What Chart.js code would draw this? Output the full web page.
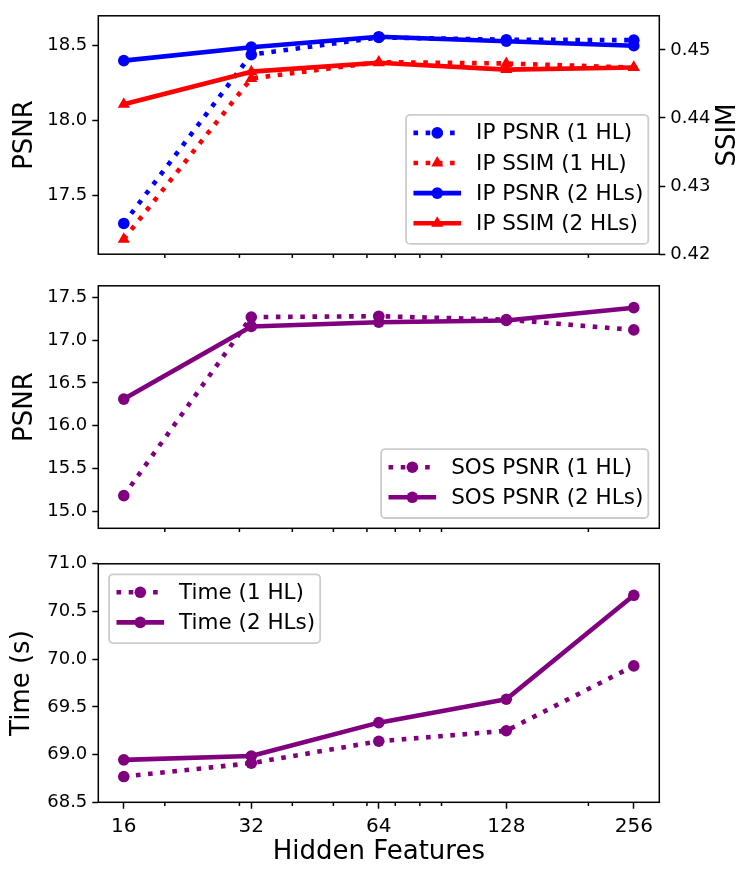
<!DOCTYPE html>
<html>
<head>
<meta charset="utf-8">
<script src="https://cdn.jsdelivr.net/npm/chart.js@4.4.1/dist/chart.umd.min.js"></script>
<style>
  html, body { margin: 0; padding: 0; background: #fff; }
  #wrap { position: relative; width: 756px; height: 880px; overflow: hidden; }
  canvas { position: absolute; left: 0; }
</style>
</head>
<body>
<div id="wrap">
  <canvas id="ip" width="756" height="270" style="top:0px"></canvas>
  <canvas id="sos" width="756" height="278" style="top:270px"></canvas>
  <canvas id="time" width="756" height="332" style="top:548px"></canvas>
</div>
<script>
const FONT = '"DejaVu Sans", sans-serif';
Chart.defaults.font.family = FONT;
Chart.defaults.color = '#000';

// x values (log2 axis) and minor log10 tick positions
const features = [16, 32, 64, 128, 256];
const minorFeatures = [20, 30, 40, 50, 60, 70, 80, 90, 200];

// top panel: image PSNR (left axis) and SSIM (right axis)
const ipPsnr1 = [17.31, 18.44, 18.555, 18.54, 18.537];
const ipSsim1 = [0.4222, 0.4458, 0.4482, 0.4480, 0.4474];
const ipPsnr2 = [18.40, 18.49, 18.56, 18.53, 18.50];
const ipSsim2 = [0.4420, 0.4468, 0.4481, 0.4471, 0.4474];

// middle panel: SOS PSNR
const sosPsnr1 = [15.18, 17.27, 17.28, 17.24, 17.12];
const sosPsnr2 = [16.31, 17.16, 17.21, 17.23, 17.38];

// bottom panel: time in seconds
const time1 = [68.77, 68.91, 69.14, 69.25, 69.93];
const time2 = [68.945, 68.985, 69.335, 69.58, 70.67];

// tick labels
const ipPsnrTicks = [17.5, 18.0, 18.5];
const ssimTicks = [0.42, 0.43, 0.44, 0.45];
const sosTicks = [15.0, 15.5, 16.0, 16.5, 17.0, 17.5];
const timeTicks = [68.5, 69.0, 69.5, 70.0, 70.5, 71.0];

const BLUE = '#0000ff', RED = '#ff0000', PURPLE = '#800080';

let series = function(label, vals, color, dotted, shape, axis, order) {
    return {
        label: label,
        data: features.map((f, i) => ({ x: f, y: vals[i] })),
        yAxisID: axis || 'y',
        order: order || 0,
        borderColor: color,
        backgroundColor: color,
        borderWidth: 4.6,
        borderDash: dotted ? [4.6, 7.6] : [],
        borderCapStyle: 'butt',
        borderJoinStyle: 'round',
        pointStyle: shape || 'circle',
        pointRadius: shape === 'triangle' ? 7 : 5.8,
        pointBorderWidth: 0,
        pointBackgroundColor: color,
        fill: false,
        tension: 0
    };
};

let xScale = function(height, withLabels) {
    return {
        type: 'logarithmic', min: 13.93, max: 294.07, bounds: 'data',
        afterBuildTicks: s => { s.ticks = features.map(v => ({ value: v })); },
        afterFit: s => { s.height = height; },
        ticks: {
            display: withLabels, autoSkip: false, maxRotation: 0, padding: 6,
            font: { size: 20 }, color: '#000',
            callback: v => String(v)
        },
        grid: {
            display: withLabels, drawOnChartArea: false,
            tickLength: 6.4, tickWidth: 1.5, tickColor: '#000'
        },
        border: { display: false },
        title: {
            display: withLabels, text: 'Hidden Features', color: '#000',
            font: { size: 26 }, padding: { top: 0, bottom: 12 }
        }
    };
};

let yScale = function(min, max, ticks, digits, pos, width, title, titlePad) {
    return {
        type: 'linear', position: pos, min: min, max: max, bounds: 'data',
        afterBuildTicks: s => { s.ticks = ticks.map(v => ({ value: v })); },
        afterFit: s => { s.width = width; },
        ticks: { font: { size: 18 }, color: '#000', padding: 5, callback: v => v.toFixed(digits) },
        grid: { drawOnChartArea: false, tickLength: 6, tickWidth: 1.5, tickColor: '#000' },
        border: { display: false },
        title: {
            display: !!title, text: title || '', color: '#000',
            font: { size: 26 }, padding: { top: titlePad || 0, bottom: 0 }
        }
    };
};

// frame around the plot area + minor log ticks
const frame = {
    id: 'frame',
    afterDraw(chart) {
        const ctx = chart.ctx, a = chart.chartArea, x = chart.scales.x;
        ctx.save();
        ctx.strokeStyle = '#000';
        ctx.lineWidth = 1.5;
        minorFeatures.forEach(v => {
            const px = x.getPixelForValue(v);
            ctx.beginPath();
            ctx.moveTo(px, a.bottom);
            ctx.lineTo(px, a.bottom + 3.7);
            ctx.stroke();
        });
        ctx.strokeRect(a.left, a.top, a.right - a.left, a.bottom - a.top);
        ctx.restore();
    }
};

let drawMarker = function(ctx, shape, r, x, y) {
    ctx.beginPath();
    if (shape === 'triangle') {
        let rad = 0;
        ctx.moveTo(x + Math.sin(rad) * r, y - Math.cos(rad) * r);
        rad += Math.PI * 2 / 3;
        ctx.lineTo(x + Math.sin(rad) * r, y - Math.cos(rad) * r);
        rad += Math.PI * 2 / 3;
        ctx.lineTo(x + Math.sin(rad) * r, y - Math.cos(rad) * r);
        ctx.closePath();
    } else {
        ctx.arc(x, y, r, 0, Math.PI * 2);
    }
    ctx.fill();
};

// matplotlib-like legend inside the axes
const boxLegend = {
    id: 'boxLegend',
    afterDraw(chart, args, opts) {
        const ctx = chart.ctx, a = chart.chartArea;
        const items = chart.data.datasets;
        ctx.save();
        ctx.font = '21.5px ' + FONT;
        const textW = Math.max(...items.map(d => ctx.measureText(d.label).width));
        const w = 70 + textW + 5;
        const h = 38.7 + (items.length - 1) * 30.1;
        let x0, y0;
        if (opts.loc === 'upper left') {
            x0 = a.left + 10.8; y0 = a.top + 10.5;
        } else {
            x0 = a.right - 11 - w; y0 = a.bottom - 10.3 - h;
        }
        ctx.beginPath();
        ctx.roundRect(x0, y0, w, h, 4);
        ctx.fillStyle = 'rgba(255,255,255,0.8)';
        ctx.fill();
        ctx.strokeStyle = '#cccccc';
        ctx.lineWidth = 1.8;
        ctx.stroke();
        items.forEach((d, i) => {
            const cy = y0 + 18 + i * 30.1;
            ctx.save();
            ctx.strokeStyle = d.borderColor;
            ctx.lineWidth = d.borderWidth;
            ctx.lineCap = 'butt';
            ctx.setLineDash(d.borderDash);
            ctx.beginPath();
            ctx.moveTo(x0 + 7.4, cy);
            ctx.lineTo(x0 + 55, cy);
            ctx.stroke();
            ctx.restore();
            ctx.fillStyle = d.pointBackgroundColor;
            drawMarker(ctx, d.pointStyle, d.pointRadius, x0 + 31.2, cy);
            ctx.fillStyle = '#000';
            ctx.textAlign = 'left';
            ctx.textBaseline = 'middle';
            ctx.fillText(d.label, x0 + 70, cy + 1);
        });
        ctx.restore();
    }
};

// right-side axis title reading upwards, like matplotlib
const sideTitle = {
    id: 'sideTitle',
    afterDraw(chart, args, opts) {
        if (!opts.text) return;
        const ctx = chart.ctx, a = chart.chartArea;
        ctx.save();
        ctx.translate(opts.x, (a.top + a.bottom) / 2);
        ctx.rotate(-Math.PI / 2);
        ctx.font = '26px ' + FONT;
        ctx.fillStyle = '#000';
        ctx.textAlign = 'center';
        ctx.textBaseline = 'middle';
        ctx.fillText(opts.text, 0, 0);
        ctx.restore();
    }
};

let baseOptions = function(padding, scales, legendLoc, side) {
    return {
        responsive: false,
        animation: false,
        layout: { padding: padding },
        scales: scales,
        plugins: {
            legend: { display: false },
            tooltip: { enabled: false },
            boxLegend: { loc: legendLoc },
            sideTitle: side || {}
        }
    };
};

new Chart(document.getElementById('ip'), {
    type: 'line',
    data: {
        datasets: [
            series('IP PSNR (1 HL)', ipPsnr1, BLUE, true, 'circle', 'y', 4),
            series('IP SSIM (1 HL)', ipSsim1, RED, true, 'triangle', 'y2', 2),
            series('IP PSNR (2 HLs)', ipPsnr2, BLUE, false, 'circle', 'y', 3),
            series('IP SSIM (2 HLs)', ipSsim2, RED, false, 'triangle', 'y2', 1)
        ]
    },
    options: baseOptions({ top: 12.3, left: 0, right: 0, bottom: 0 }, {
        x: xScale(15, false),
        y: yScale(17.104, 18.70, ipPsnrTicks, 1, 'left', 98.3, 'PSNR', 9.4),
        y2: yScale(0.42, 0.455, ssimTicks, 2, 'right', 96.7, null)
    }, 'lower right', { text: 'SSIM', x: 728 }),
    plugins: [frame, boxLegend, sideTitle]
});

new Chart(document.getElementById('sos'), {
    type: 'line',
    data: {
        datasets: [
            series('SOS PSNR (1 HL)', sosPsnr1, PURPLE, true, 'circle', 'y', 2),
            series('SOS PSNR (2 HLs)', sosPsnr2, PURPLE, false, 'circle', 'y', 1)
        ]
    },
    options: baseOptions({ top: 15, left: 0, right: 96.7, bottom: 0 }, {
        x: xScale(278 - 258.3, false),
        y: yScale(14.798, 17.636, sosTicks, 1, 'left', 98.3, 'PSNR', 9.4)
    }, 'lower right'),
    plugins: [frame, boxLegend]
});

new Chart(document.getElementById('time'), {
    type: 'line',
    data: {
        datasets: [
            series('Time (1 HL)', time1, PURPLE, true, 'circle', 'y', 2),
            series('Time (2 HLs)', time2, PURPLE, false, 'circle', 'y', 1)
        ]
    },
    options: baseOptions({ top: 11, left: 0, right: 96.7, bottom: 0 }, {
        x: xScale(332 - 254.3, true),
        y: yScale(68.5, 71.0, timeTicks, 1, 'left', 98.3, 'Time (s)', 7)
    }, 'upper left'),
    plugins: [frame, boxLegend]
});
</script>
</body>
</html>
